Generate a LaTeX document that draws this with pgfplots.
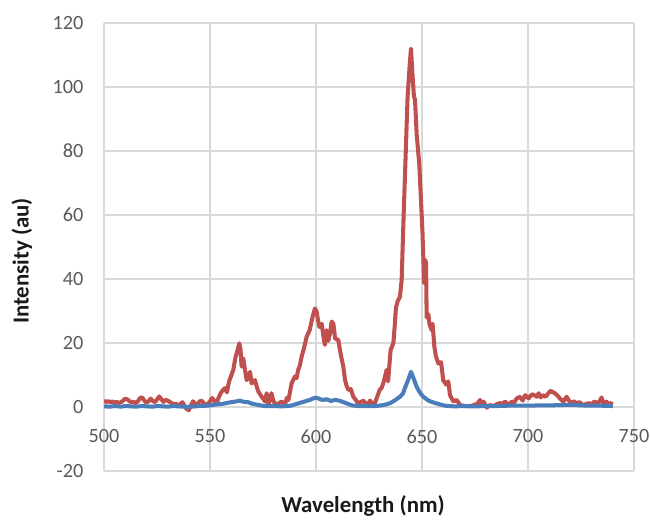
\documentclass[border=0pt]{standalone}
\usepackage{pgfplots}
\pgfplotsset{compat=1.18}
\usepackage{fontspec}
\setmainfont{Carlito}
\definecolor{redline}{RGB}{192,80,77}
\definecolor{blueline}{RGB}{74,126,187}
\definecolor{gridgray}{RGB}{217,217,217}
\definecolor{ticktext}{RGB}{89,89,89}

\begin{document}
\begin{tikzpicture}
\begin{axis}[
  scale only axis, width=10.6cm, height=8.96cm,
  at={(0,0)}, anchor=south west,
  xmin=500, xmax=750, ymin=-20, ymax=120,
  xtick={500,550,...,750}, ytick={-20,0,...,120},
  axis line style={draw=none},
  grid=major, grid style={gridgray, line width=0.85pt},
  major tick length=0pt,
  tick label style={font=\fontsize{11.5}{13}\selectfont, text=ticktext},
  /pgf/number format/assume math mode=true,
  xticklabel style={yshift=0.95cm},
  yticklabel style={xshift=-0.29cm},
  line join=round,
]
\addplot[redline, line width=2.3pt] coordinates {
(500,2.0)(501,1.6)(502,1.8)(503,1.5)(504,1.7)(505,1.4)(506,1.6)(507,1.3)(508,1.5)(509,2.0)
(510,2.6)(511,2.4)(512,1.8)(513,1.5)(514,1.6)(515,1.2)(516,1.8)(517,2.8)(518,3.0)(519,2.0)
(520,1.4)(521,1.8)(522,2.6)(523,1.9)(524,1.5)(525,2.3)(526,3.3)(527,2.5)(528,1.6)(529,2.2)
(530,2.0)(531,1.6)(532,1.2)(533,0.8)(534,1.0)(535,0.6)(536,0.9)(537,1.5)(538,0.3)(539,-0.6)
(540,-1.0)(541,0.5)(542,1.8)(543,1.0)(544,0.6)(545,1.7)(546,2.0)(547,1.2)(548,0.6)(549,1.0)
(550,1.8)(551,2.8)(552,2.0)(553,1.0)(554,2.8)(555,4.3)(556,5.2)(557,5.9)(558,4.6)(559,8.0)
(560,9.8)(561,11.6)(562,15.5)(563,17.8)(563.8,19.9)(564.4,18.0)(564.9,12.6)(565.7,15.2)
(566.5,11.6)(567.3,8.4)(568.2,9.5)(568.9,11.0)(569.6,7.4)(570.4,7.8)(571.2,8.4)(572,6.5)
(572.8,4.8)(574.4,3.2)(576,1.7)(576.7,4.3)(577.5,0.6)(579,4.3)(580,1.7)(581.4,0.6)
(582.6,1.2)(583.8,1.7)(585.3,0.6)(586.2,2.8)(587,2.2)(588.5,7.4)(590,9.5)(590.8,9.0)
(591.6,11.6)(592.4,13)(593.2,15.7)(594.3,18.3)(595.6,22)(597,24)(598.4,28.2)(599.5,30.8)
(600.3,29.8)(601,27)(601.6,25)(602.7,26)(603.5,22)(604.2,19.4)(605,24)(605.8,20.7)
(606.6,23)(607.4,26.7)(608.2,26)(609,21.4)(610.5,21)(611.3,17.8)(612.1,15)(612.9,12.6)
(613.7,8.4)(614.5,6.5)(615.3,5.3)(616.4,5.6)(617.6,3.2)(619,2.0)(620,1.2)(621,1.5)
(622.4,2.0)(623.5,1.0)(624.7,1.2)(625.5,2.0)(626.5,1.0)(627.5,0.8)(628.5,2.5)(630,5.3)
(631,6.0)(632,8.0)(633.3,11.6)(634,8.0)(635.2,17.8)(636.5,20)(637.2,26)(637.7,31)
(638.5,33)(639.6,34.5)(640.4,39.7)(641.2,57)(642,73)(643.2,97)(644.2,107)(644.8,112)
(645.5,104)(646.2,97)(646.7,96)(647.5,85)(648.7,76)(649.5,65)(650.2,55)(650.6,47)
(651,38.7)(651.5,46)(651.9,45)(652.2,28)(653,29)(653.5,26)(654.5,24)(655,26)(655.8,19)
(656.5,16)(657.7,13.6)(659,14)(660,8.4)(661.4,7)(662.4,8)(663.2,3.7)(664.8,1.7)(666.4,2.2)
(668,0.6)(670.4,0.3)(672.8,0.3)(674.4,0.6)(676,1.0)(677.4,2.2)(678.2,0.6)(679,1.7)
(680.6,-0.2)(682,0.6)(683.8,0.3)(685.3,0.9)(686.8,1.2)(688,1.0)(689.2,1.7)(690.8,0.6)
(692.4,1.7)(693.5,1.4)(694.7,2.7)(696.3,3.2)(697.5,2.0)(698.7,3.7)(700.3,2.7)(701.9,4.0)
(703.5,3.5)(704.2,3.2)(705,4.3)(706,3.0)(707,3.7)(708.3,3.2)(709.6,4.3)(710.7,5.1)
(711.7,4.6)(712.7,4.3)(714,3.5)(715,2.7)(716.7,1.7)(718.2,3.2)(719.3,2.0)(720.5,1.2)
(721.7,1.8)(722.8,1.2)(724.4,1.5)(726,0.6)(727.5,1.0)(729,1.2)(730,0.8)(731.3,1.7)
(732.9,1.2)(734,2.0)(734.7,3.0)(735.5,1.2)(736.3,0.8)(737,1.7)(738,1.0)(739,1.2)(740,0.9)
};
\addplot[blueline, line width=2.3pt] coordinates {
(500,0.2)(503,0.1)(505,0.3)(508,0.1)(510,0.3)(513,0.2)(515,0.1)(518,0.3)(520,0.2)(523,0.1)
(525,0.3)(528,0.2)(530,0.1)(533,0.3)(535,0.2)(538,0.1)(540,0.0)(543,0.2)(545,0.3)(548,0.4)
(550,0.5)(553,0.8)(556,1.0)(559,1.4)(562,1.7)(564,2.0)(566,1.6)(568,1.5)(570,1.0)(573,0.6)
(576,0.3)(580,0.3)(584,0.2)(588,0.4)(591,1.0)(594,1.6)(597,2.2)(599.5,2.9)(601,2.7)
(603,2.2)(605,2.4)(607,1.9)(609,2.2)(611,2.0)(613,1.5)(615,1.0)(617,0.5)(620,0.3)(624,0.3)
(628,0.3)(632,0.6)(635,1.2)(637,2.0)(639.6,3.2)(641,4.2)(642,6.0)(643.5,8.5)(644.8,11)
(646,9)(647.5,6.3)(649,4.5)(650.6,3.2)(652,2.5)(653,2.0)(655,1.5)(656.5,1.2)(658.5,0.8)
(661,0.4)(665,0.2)(670,0.3)(675,0.2)(680,0.3)(685,0.3)(690,0.4)(695,0.4)(700,0.4)(705,0.5)
(710,0.5)(715,0.6)(720,0.7)(725,0.5)(730,0.4)(735,0.4)(740,0.3)
};
\end{axis}
\node[rotate=90, font=\fontsize{13}{15}\selectfont\bfseries, text=black!90] at (-1.64,4.2) {Intensity (au)};
\node[anchor=base, font=\fontsize{13}{15}\selectfont\bfseries, text=black!90] at (5.18,-0.82) {Wavelength (nm)};
\pgfresetboundingbox
\path[use as bounding box] (-2.08,-1.0) rectangle (10.92,9.42);
\end{tikzpicture}
\end{document}
